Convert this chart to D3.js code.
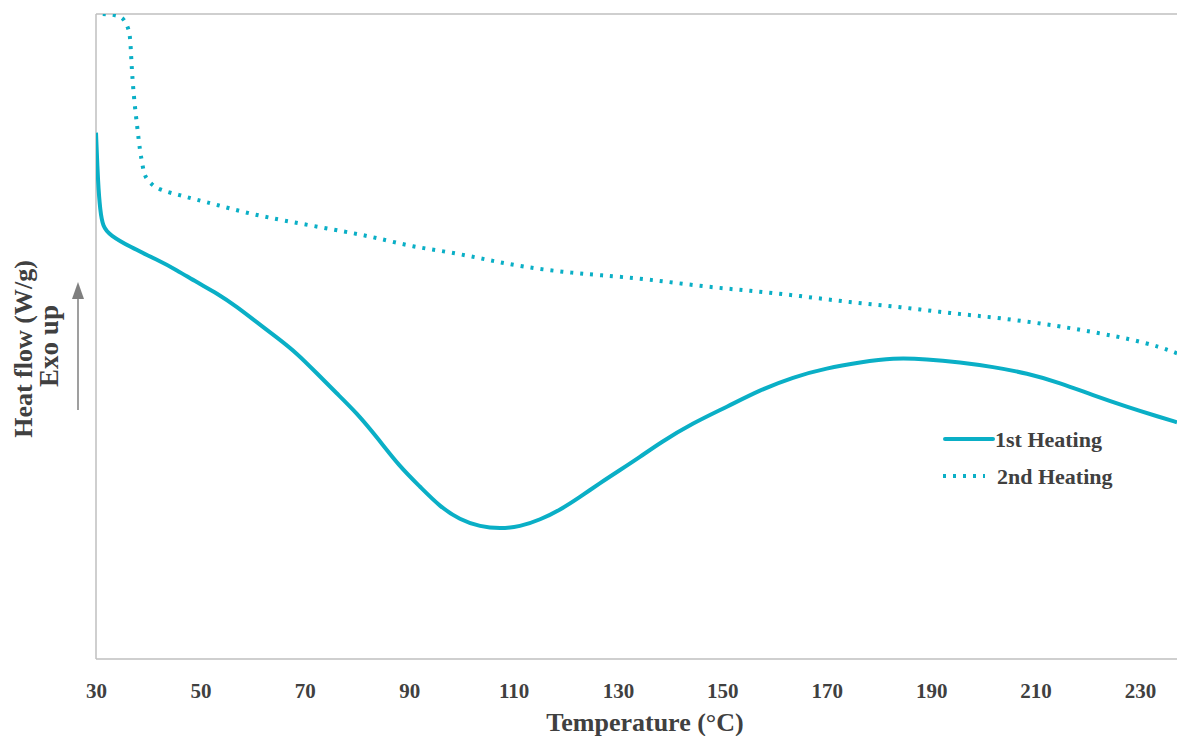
<!DOCTYPE html>
<html>
<head>
<meta charset="utf-8">
<script src="https://cdn.jsdelivr.net/npm/d3@7"></script>
<style>
  body { margin: 0; background: #fff; }
  text { font-family: "Liberation Serif", "DejaVu Serif", serif; font-weight: bold; fill: #404040; }
</style>
</head>
<body>
<div id="chart"></div>
<script>
// data (heat flow in arbitrary units, no y ticks)
var temp1 = [30, 30.4, 30.8, 31.3, 32.7, 36.5, 41.7, 45.5, 49.3, 53.2, 57.0, 60.8, 64.6, 68.5, 72.3, 76.1, 80.0, 83.8, 88.2, 92.1, 95.9, 99.7, 103.6, 107.4, 111.2, 115.1, 118.9, 122.7, 126.6, 130.4, 134.2, 138.0, 144.4, 150.9, 157.2, 163.5, 170.0, 176.4, 182.7, 189.2, 195.5, 201.8, 208.4, 214.7, 221.0, 227.5, 233.8, 237.1]
var heat1 = [81.6, 73.5, 69.6, 67.0, 65.7, 63.9, 61.9, 60.3, 58.4, 56.7, 54.6, 52.2, 49.9, 47.4, 44.3, 41.2, 38.1, 34.4, 29.8, 26.7, 23.6, 21.6, 20.5, 20.2, 20.5, 21.6, 23.1, 25.1, 27.3, 29.3, 31.3, 33.5, 36.6, 39.1, 41.7, 43.7, 45.1, 46.0, 46.7, 46.5, 46.0, 45.3, 44.3, 42.8, 40.9, 39.1, 37.5, 36.7]

var temp2 = [31.3, 35.0, 35.9, 36.5, 36.7, 36.9, 37.3, 37.9, 38.4, 39.0, 39.4, 40.7, 42.3, 46.1, 49.3, 53.2, 58.2, 63.3, 68.5, 78.1, 83.8, 90.7, 97.8, 104.9, 111.8, 119.5, 126.6, 135.7, 145.7, 155.3, 164.9, 174.4, 184.0, 193.6, 203.2, 214.7, 222.3, 228.1, 233.8, 237.1]
var heat2 = [100, 99.8, 98.3, 97.1, 94.0, 90.9, 86.7, 82.5, 78.9, 76.1, 74.7, 73.5, 72.7, 71.9, 71.2, 70.4, 69.3, 68.4, 67.6, 66.2, 65.3, 63.9, 63.1, 61.9, 60.8, 60.0, 59.5, 58.9, 57.8, 57.1, 56.3, 55.3, 54.6, 53.6, 52.9, 51.6, 50.5, 49.6, 48.4, 47.4]

var xTicks = [30, 50, 70, 90, 110, 130, 150, 170, 190, 210, 230]
var seriesNames = ["1st Heating", "2nd Heating"]

var width = 1177, height = 736
var margin = {top: 14, right: 0, bottom: 77, left: 96}
var lineColor = "#0aafc6"

var svg = d3.select("#chart")
  .append("svg")
  .attr("width", width)
  .attr("height", height)

var xScale = d3.scaleLinear()
  .domain([30, 237.1])
  .range([margin.left, width - margin.right])

var yScale = d3.scaleLinear()
  .domain([0, 100])
  .range([height - margin.bottom, margin.top])

svg.append("clipPath")
  .attr("id", "plot-clip")
  .append("rect")
  .attr("x", margin.left)
  .attr("y", margin.top)
  .attr("width", width - margin.left - margin.right)
  .attr("height", height - margin.top - margin.bottom)

// frame: left, bottom and top lines
var frame = svg.append("g")
  .attr("stroke", "#bfbfbf")
  .attr("stroke-width", 1.5)
frame.append("line")
  .attr("x1", xScale(30)).attr("x2", xScale(30))
  .attr("y1", yScale(100)).attr("y2", yScale(0))
frame.append("line")
  .attr("x1", xScale(30)).attr("x2", width)
  .attr("y1", yScale(0)).attr("y2", yScale(0))
frame.append("line")
  .attr("x1", xScale(30)).attr("x2", width)
  .attr("y1", yScale(100)).attr("y2", yScale(100))

// X axis (labels only)
var xAxis = d3.axisBottom(xScale)
  .tickValues(xTicks)
  .tickSize(0)
  .tickPadding(24)

svg.append("g")
  .attr("transform", `translate(0,${height - margin.bottom})`)
  .attr("class", "x-axis")
  .call(xAxis)
  .call(g => g.select(".domain").remove())
  .selectAll("text")
  .attr("font-size", "21px")
  .attr("font-family", "Liberation Serif, serif")
  .attr("font-weight", "bold")
  .attr("fill", "#404040")

// basis curve smooths out the reading noise
var line = d3.line()
  .x(d => xScale(d[0]))
  .y(d => yScale(d[1]))
  .curve(d3.curveBasis)

var plot = svg.append("g").attr("clip-path", "url(#plot-clip)")

plot.append("path")
  .datum(temp1.map((t, i) => [t, heat1[i]]))
  .attr("d", line)
  .attr("fill", "none")
  .attr("stroke", lineColor)
  .attr("stroke-width", 4)

plot.append("path")
  .datum(temp2.map((t, i) => [t, heat2[i]]))
  .attr("d", line)
  .attr("fill", "none")
  .attr("stroke", lineColor)
  .attr("stroke-width", 4)
  .attr("stroke-dasharray", "3,7")

// axis titles
svg.append("text")
  .attr("x", 645)
  .attr("y", 731)
  .attr("text-anchor", "middle")
  .attr("font-size", "26px")
  .text("Temperature (°C)")

svg.append("text")
  .attr("transform", "translate(32,349) rotate(-90)")
  .attr("text-anchor", "middle")
  .attr("font-size", "26px")
  .text("Heat flow (W/g)")

svg.append("text")
  .attr("transform", "translate(58,346) rotate(-90)")
  .attr("text-anchor", "middle")
  .attr("font-size", "27px")
  .text("Exo up")

// exo arrow
svg.append("line")
  .attr("x1", 78).attr("x2", 78)
  .attr("y1", 410).attr("y2", 296)
  .attr("stroke", "#7f7f7f")
  .attr("stroke-width", 1.5)

svg.append("path")
  .attr("d", "M78,282 L72,299 L84,299 Z")
  .attr("fill", "#7f7f7f")

// legend
var legend = svg.append("g").attr("transform", "translate(943,439)")
seriesNames.forEach((name, i) => {
  var g = legend.append("g").attr("transform", `translate(0,${i * 37})`)
  g.append("line")
    .attr("x1", i === 0 ? 2 : 0).attr("x2", i === 0 ? 50 : 42)
    .attr("y1", 0).attr("y2", 0)
    .attr("stroke", lineColor)
    .attr("stroke-width", 4)
    .attr("stroke-linecap", i === 0 ? "round" : "butt")
    .attr("stroke-dasharray", i === 0 ? null : "3,7")
  g.append("text")
    .attr("x", i === 0 ? 52 : 54)
    .attr("y", 8)
    .attr("font-size", "22px")
    .text(name)
})
</script>
</body>
</html>
